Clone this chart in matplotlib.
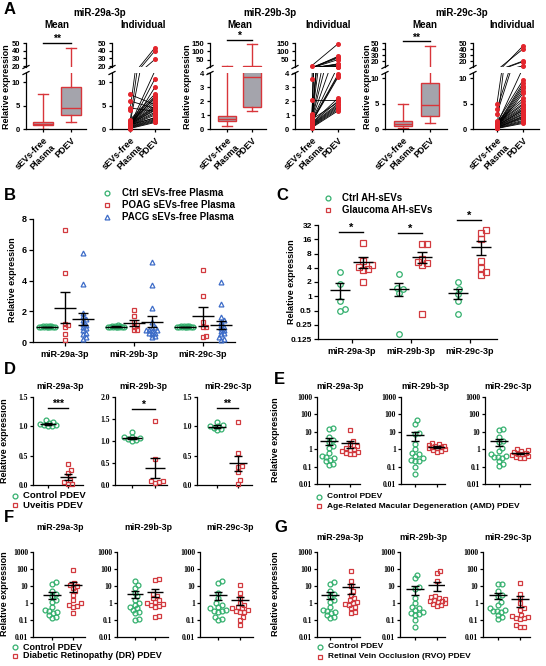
import numpy as np
import matplotlib
matplotlib.use('Agg')
import matplotlib.pyplot as plt
from matplotlib.lines import Line2D
from matplotlib.transforms import blended_transform_factory

plt.rcParams['font.family'] = ['Liberation Sans', 'DejaVu Sans']
plt.rcParams['font.weight'] = 'bold'
plt.rcParams['axes.linewidth'] = 0.9
plt.rcParams['xtick.major.width'] = 0.9
plt.rcParams['ytick.major.width'] = 0.9
plt.rcParams['xtick.major.size'] = 3
plt.rcParams['ytick.major.size'] = 3
SERIF = ['Liberation Serif', 'DejaVu Serif']

# ---------------- DATA ----------------
mirs = ['miR-29a-3p', 'miR-29b-3p', 'miR-29c-3p']
A_xlabels = ['sEVs-free\nPlasma', 'PDEV']
# box stats: [whislo, q1, median, q3, whishi]
A_box_sevs = [[0.1, 0.8, 1.1, 1.6, 7.4], [0.2, 0.6, 0.75, 0.9, 12], [0.2, 0.5, 1.0, 1.5, 5.0]]
A_box_pdev = [[1.4, 3.0, 4.5, 9.0, 44], [1.3, 1.6, 3.7, 12, 145], [1.1, 2.5, 4.7, 9.1, 45]]
A_stars = ['**', '*', '**']
A_upper_lim = [(19, 50), (6, 150), (10, 50)]
A_upper_ticks = [[20, 30, 40, 50], [50, 100, 150], [20, 30, 40, 50]]
A_lower_lim = [(0, 12), (0, 4), (0, 11)]
A_lower_ticks = [[0, 5, 10], [0, 1, 2, 3, 4], [0, 5, 10]]

A29a_sevs = [0.1, 0.2, 0.3, 0.4, 0.5, 0.6, 0.7, 0.8, 0.9, 1.0, 1.0, 1.1, 1.2, 1.3, 1.4, 1.5, 1.6, 1.8, 2.0, 0.3,
             0.5, 0.8, 1.2, 1.5, 4.0, 4.5, 6.0, 7.4, 0.9, 1.1]
A29a_pdev = [1.4, 1.6, 1.8, 2.0, 2.2, 2.5, 3.0, 3.3, 3.6, 4.0, 4.2, 4.5, 4.7, 5.0, 5.5, 6.0, 6.5, 7.0, 7.5, 9.0,
             10.8, 12.5, 29, 40, 44, 3.8, 4.4, 5.2, 2.4, 6.8]
A29b_sevs = [0.1, 0.15, 0.2, 0.25, 0.3, 0.35, 0.4, 0.45, 0.5, 0.55, 0.6, 0.65, 0.7, 0.75, 0.8, 0.85, 0.9, 0.95,
             1.0, 1.05, 0.5, 0.7, 0.3, 2.1, 3.6, 15]
A29b_pdev = [1.3, 1.4, 1.5, 1.6, 1.7, 1.8, 2.0, 2.2, 3.7, 3.8, 3.9, 4.5, 6, 8, 10, 15, 20, 22, 50, 60, 70, 1.9,
             25, 2.1, 65, 145]
A29c_sevs = [0.1, 0.15, 0.2, 0.3, 0.35, 0.4, 0.5, 0.55, 0.6, 0.7, 0.8, 0.9, 1.0, 1.1, 1.2, 1.3, 1.5, 0.25, 0.45,
             0.65, 0.75, 0.85, 1.4, 3.0, 4.0, 5.0, 0.5, 0.3, 0.6, 0.95]
A29c_pdev = [1.1, 1.3, 1.5, 1.7, 2.0, 2.2, 2.5, 2.8, 3.0, 3.3, 3.6, 4.0, 4.3, 4.7, 5.0, 5.5, 6.0, 7.0, 7.5, 8.0,
             8.5, 9.0, 9.6, 19, 20, 40, 45, 2.4, 3.8, 12]
A_pairs = [(A29a_sevs, A29a_pdev), (A29b_sevs, A29b_pdev), (A29c_sevs, A29c_pdev)]

# Panel B
B_series = ['Ctrl sEVs-free Plasma', 'POAG sEVs-free Plasma', 'PACG sEVs-free Plasma']
B_ctrl = [[0.95, 0.97, 0.98, 1.0, 1.0, 1.0, 1.01, 1.02, 1.03, 1.05, 0.99, 1.0],
          [0.95, 0.97, 0.98, 1.0, 1.0, 1.0, 1.01, 1.03, 1.05, 1.1, 0.99, 1.0],
          [0.95, 0.97, 0.98, 1.0, 1.0, 1.0, 1.01, 1.02, 1.03, 1.04, 0.99, 1.0]]
B_poag = [[7.3, 4.5, 1.2, 1.1, 1.0, 0.5, 0.1],
          [2.1, 1.7, 1.3, 1.1, 1.0, 0.8, 0.75],
          [4.7, 3.0, 1.3, 1.0, 0.95, 0.4, 0.35]]
B_pacg = [[5.8, 3.8, 1.9, 1.7, 1.5, 1.4, 1.2, 1.0, 0.9, 0.8, 0.6, 0.5, 0.3, 0.2, 1.1],
          [5.2, 3.7, 2.2, 1.3, 1.0, 0.9, 0.8, 0.75, 0.7, 0.6, 0.5, 0.4, 0.3, 0.6, 0.8],
          [3.9, 2.5, 1.6, 1.4, 1.3, 1.1, 1.0, 0.9, 0.8, 0.6, 0.5, 0.3, 0.2, 0.15, 0.7]]

# Panel C
C_series = ['Ctrl AH-sEVs', 'Glaucoma AH-sEVs']
C_ctrl = [[3.2, 1.8, 0.8, 0.55, 0.5], [2.9, 1.5, 1.4, 1.2, 0.16], [2.0, 1.4, 1.1, 0.8, 0.42]]
C_glau = [[13.5, 5.5, 4.5, 4.2, 3.8, 3.6, 2.0], [13, 12.5, 6.2, 5.3, 5.0, 4.5, 0.42],
          [25, 22, 16, 5.5, 4.0, 3.2, 2.8]]
C_ticks = [0.125, 0.25, 0.5, 1, 2, 4, 8, 16, 32]
C_ticklabels = ['0.125', '0.25', '0.5', '1', '2', '4', '8', '16', '32']
C_sig_y = [22.5, 21.5, 40]

# Panel D
D_series = ['Control PDEV', 'Uveitis PDEV']
D_ctrl = [[1.1, 1.08, 1.05, 1.04, 1.03, 1.02, 1.01, 1.0], [1.2, 1.1, 1.08, 1.07, 1.05, 1.02, 1.0],
          [1.08, 1.02, 1.01, 1.0, 0.98, 0.96, 0.93]]
D_uv = [[0.35, 0.25, 0.2, 0.08, 0.05, 0.02, 0.02], [1.45, 0.6, 0.1, 0.08, 0.06, 0.05],
        [1.07, 0.55, 0.33, 0.3, 0.22, 0.08, 0.02]]
D_ymax = [1.5, 2.0, 1.5]
D_stars = ['***', '*', '**']
D_sig_y = [1.31, 1.72, 1.31]

# Control PDEV (E-G)
ctrl_29a = [17, 14, 5, 3.5, 2.5, 1.5, 1.2, 0.6, 0.4, 0.35, 0.3, 0.25, 0.2, 0.15, 0.13]
ctrl_29b = [45, 28, 9, 7, 2, 1.0, 0.6, 0.5, 0.4, 0.3, 0.25, 0.22, 0.2, 0.1, 0.04]
ctrl_29c = [14, 13, 5, 3, 2.5, 1.2, 0.8, 0.5, 0.4, 0.35, 0.3, 0.35, 0.2, 0.15, 0.11]
ctrlF_29b = [20, 12, 8, 4, 2.5, 1.5, 1.0, 0.8, 0.6, 0.5, 0.4, 0.3, 0.25, 0.12, 0.1]
ctrlF_29c = [20, 15, 4, 2, 1.0, 0.8, 0.6, 0.5, 0.4, 0.35, 0.3, 0.15, 0.12, 0.1, 0.35]

E_series = ['Control PDEV', 'Age-Related Macular Degeneration (AMD) PDEV']
E_ctrl = [ctrl_29a, ctrl_29b, ctrl_29c]
E_dis = [[13, 3, 2, 1.5, 1.2, 1.0, 0.9, 0.8, 0.7, 0.6, 0.55, 0.5],
         [2.3, 2.0, 1.8, 1.6, 1.5, 1.4, 1.3, 1.2, 1.1, 1.0, 0.9, 0.8, 0.7],
         [1.0, 0.9, 0.8, 0.7, 0.6, 0.55, 0.5, 0.45, 0.4, 0.35, 0.3, 0.3]]

F_series = ['Control PDEV', 'Diabetic Retinopathy (DR) PDEV']
F_ctrl = [ctrl_29a, ctrlF_29b, ctrlF_29c]
F_dis = [[85, 15, 12, 10, 8, 5, 3, 1.5, 1.0, 0.8, 0.7, 0.6, 0.25],
         [25, 22, 3.5, 2.5, 2.0, 1.5, 1.2, 1.0, 0.9, 0.8, 0.7, 0.6, 0.18, 0.15],
         [11, 4, 2, 1.0, 0.8, 0.6, 0.5, 0.4, 0.35, 0.3, 0.3, 0.15, 0.1, 0.05, 0.5]]

G_series = ['Control PDEV', 'Retinal Vein Occlusion (RVO) PDEV']
G_ctrl = [ctrl_29a, ctrl_29b, ctrl_29c]
G_dis = [[80, 20, 10, 5, 3, 2.0, 1.5, 1.2, 1.0, 0.9, 0.8, 0.6, 0.5, 0.3, 0.25],
         [80, 55, 20, 2.5, 2.2, 2.0, 1.8, 1.5, 1.4, 1.3, 1.2, 1.0, 0.9, 0.8, 0.7],
         [16, 3.5, 2.0, 1.0, 0.5, 0.4, 0.2, 0.18, 0.15, 0.14, 0.13, 0.12, 0.05, 0.04, 0.04]]
log_ticks = [0.01, 0.1, 1, 10, 100, 1000]
log_ticklabels = ['0.01', '0.1', '1', '10', '100', '1000']

# ---------------- STYLE ----------------
GREEN = '#34b06e'
RED = '#d23a3f'
BLUE = '#3d6cc8'
BOXRED = '#d8353a'
BOXFILL = '#a4a4ac'
PTRED = '#e3262d'

W, H = 546, 666
fig = plt.figure(figsize=(W / 100, H / 100), dpi=100)


def add_ax(left, p0, p1, right, top, bottom):
    ax = fig.add_axes([left / W, 1 - bottom / H, (right - left) / W, (bottom - top) / H])
    u = (p1 - p0)
    ax.set_xlim((left - p0) / u, (right - p0) / u)
    ax.spines['top'].set_visible(False)
    ax.spines['right'].set_visible(False)
    ax.patch.set_alpha(0)
    return ax


def ftext(x, y, s, **kw):
    kw.setdefault('fontweight', 'bold')
    return fig.text(x / W, 1 - y / H, s, **kw)


def fig_marker(x, y, marker, color, ms=3.5):
    fig.add_artist(Line2D([x / W], [1 - y / H], marker=marker, ls='none', ms=ms, mfc='none', mec=color,
                          mew=0.9, transform=fig.transFigure))


def legend_rows(x_m, x_t, ys, markers, colors, labels, fs):
    for y, m, c, lab in zip(ys, markers, colors, labels):
        fig_marker(x_m, y, m, c)
        ftext(x_t, y, lab, fontsize=fs, va='center', ha='left')


def swarm_x(ax, xc, vals, c_px=3.0, max_px=8.0):
    vals = np.asarray(vals, float)
    disp = ax.transData.transform(np.column_stack([np.full(len(vals), xc), vals]))
    cx = disp[0, 0]
    ys = disp[:, 1]
    order = np.argsort(ys)
    placed = []
    off = np.zeros(len(vals))
    cands = [0.0]
    k = 1
    while k * 1.0 <= max_px:
        cands += [k * 1.0, -k * 1.0]
        k += 1
    for i in order:
        y = ys[i]
        best, best_d = 0.0, -1
        for c in cands:
            d = min([np.hypot(c - px, y - py) for px, py in placed] + [1e9])
            if d >= c_px:
                best = c
                break
            if d > best_d:
                best, best_d = c, d
        placed.append((best, y))
        off[i] = best
    inv = ax.transData.inverted()
    return inv.transform(np.column_stack([cx + off, ys]))[:, 0]


def scatter(ax, xc, vals, marker, color, ms=3.5, c_px=3.0, max_px=8.0):
    xs = swarm_x(ax, xc, vals, c_px, max_px)
    ax.plot(xs, vals, ls='none', marker=marker, ms=ms, mfc='none', mec=color, mew=0.9, clip_on=False, zorder=3)


def mean_sem(ax, xc, vals, hw, cw, lw=1.0, floor=None):
    v = np.asarray(vals, float)
    m = v.mean()
    s = v.std(ddof=1) / np.sqrt(len(v))
    lo = m - s
    if floor is not None:
        lo = max(lo, floor)
    kw = dict(color='k', lw=lw, zorder=5, solid_capstyle='butt')
    ax.plot([xc - hw, xc + hw], [m, m], **kw)
    ax.plot([xc, xc], [lo, m + s], **kw)
    ax.plot([xc - cw, xc + cw], [m + s, m + s], **kw)
    ax.plot([xc - cw, xc + cw], [lo, lo], **kw)


def sig_bar(ax, x0, x1, y, stars, fs=7, yoff_px=1.0):
    ax.plot([x0, x1], [y, y], color='k', lw=1.0, clip_on=False)
    ax.annotate(stars, xy=((x0 + x1) / 2, y), xytext=(0, yoff_px), textcoords='offset points',
                ha='center', va='baseline', fontsize=fs, fontweight='bold', annotation_clip=False)


# ---------------- PANEL A ----------------
ftext(4, 10, 'A', fontsize=12, va='center', ha='left')
A_mean_px = [(26, 43, 71, 86), (210, 227, 252, 266), (385, 403, 430, 447)]
A_ind_px = [(112, 130, 155, 169), (295, 312, 338, 354), (473, 497, 523, 539)]
A_title_x = [100, 270, 462]
A_mean_title_x = [57, 240, 425]
A_ind_title_x = [143, 328, 512]
A_ylabel_x = [7, 187, 367]
A_sig_axy = [1.0, 1.125, 1.08]
UP_T, UP_B, LO_T, LO_B = 43, 67, 73, 129


def break_marks(x):
    for y in (UP_B, LO_T):
        fig.add_artist(Line2D([(x - 3) / W, (x + 3) / W], [1 - (y + 1.5) / H, 1 - (y - 1.5) / H],
                              color='k', lw=0.9, transform=fig.transFigure))


for g in range(3):
    ftext(A_title_x[g], 13, mirs[g], fontsize=7, ha='center', va='center')
    ftext(A_mean_title_x[g], 25, 'Mean', fontsize=7, ha='center', va='center')
    ftext(A_ind_title_x[g], 25, 'Individual', fontsize=7, ha='center', va='center')
    ftext(A_ylabel_x[g], 87, 'Relative expression', fontsize=6.5, rotation=90, ha='center', va='center')

    stats = []
    for lab, b in zip(A_xlabels, [A_box_sevs[g], A_box_pdev[g]]):
        stats.append(dict(whislo=b[0], q1=b[1], med=b[2], q3=b[3], whishi=b[4], label=lab))
    box_kw = dict(positions=[0, 1], widths=0.7, showfliers=False, patch_artist=True, capwidths=0.38,
                  boxprops=dict(facecolor=BOXFILL, edgecolor=BOXRED, lw=1.0),
                  medianprops=dict(color=BOXRED, lw=1.0),
                  whiskerprops=dict(color=BOXRED, lw=1.0), capprops=dict(color=BOXRED, lw=1.0))
    for kind in ('mean', 'ind'):
        pxs = A_mean_px[g] if kind == 'mean' else A_ind_px[g]
        axu = add_ax(pxs[0], pxs[1], pxs[2], pxs[3], UP_T, UP_B)
        axl = add_ax(pxs[0], pxs[1], pxs[2], pxs[3], LO_T, LO_B)
        xl = ((pxs[0] - pxs[1]) / (pxs[2] - pxs[1]), (pxs[3] - pxs[1]) / (pxs[2] - pxs[1]))
        if kind == 'mean':
            axu.bxp(stats, **box_kw)
            axl.bxp(stats, **box_kw)
            tr = blended_transform_factory(axu.transData, axu.transAxes)
            yb = A_sig_axy[g]
            axu.plot([0, 1], [yb, yb], color='k', lw=1.0, transform=tr, clip_on=False)
            axu.text(0.5, yb + 0.03, A_stars[g], transform=tr, ha='center', va='baseline', fontsize=7.5,
                     fontweight='bold')
        else:
            sv, pd = A_pairs[g]
            for a, b in zip(sv, pd):
                for ax in (axu, axl):
                    ax.plot([0, 1], [a, b], color='k', lw=0.6, zorder=2)
            sv = np.asarray(sv)
            pd = np.asarray(pd)
            lo_top = A_lower_lim[g][1]
            up_bot = A_upper_lim[g][0]
            for xv, arr in ((0, sv), (1, pd)):
                m = arr <= lo_top
                axl.plot(np.full(m.sum(), xv), arr[m], 'o', ms=2.6, color=PTRED, clip_on=False, zorder=4)
                m2 = arr >= up_bot
                axu.plot(np.full(m2.sum(), xv), arr[m2], 'o', ms=2.6, color=PTRED, clip_on=False, zorder=4)
        axu.set_xlim(*xl)
        axl.set_xlim(*xl)
        axu.set_ylim(*A_upper_lim[g])
        axu.set_yticks(A_upper_ticks[g])
        axu.spines['bottom'].set_visible(False)
        axu.set_xticks([])
        axl.set_ylim(*A_lower_lim[g])
        axl.set_yticks(A_lower_ticks[g])
        axl.set_xticks([0, 1])
        axl.set_xticklabels(A_xlabels, rotation=45, ha='right', rotation_mode='anchor', fontsize=6.5,
                            fontweight='bold')
        for a in (axu, axl):
            a.tick_params(axis='y', labelsize=5.5, pad=1.5, length=2.5)
            a.tick_params(axis='x', pad=2, length=2.5)
        break_marks(pxs[0])

# ---------------- PANEL B ----------------
ftext(4, 195, 'B', fontsize=12, va='center', ha='left')
legend_rows(107, 122, [193, 205, 217], ['o', 's', '^'], [GREEN, RED, BLUE], B_series, 7)
axB = add_ax(33, 65, 134, 235, 219, 342)
axB.set_ylim(0, 8)
axB.set_yticks([0, 2, 4, 6, 8])
axB.set_xticks([0, 1, 2])
axB.set_xticklabels(mirs, fontsize=6.5, fontweight='bold')
axB.tick_params(axis='y', labelsize=6.5, pad=1.5)
axB.tick_params(axis='x', pad=3)
ftext(13, 280, 'Relative expression', fontsize=6.5, rotation=90, ha='center', va='center')
for g in range(3):
    for off, vals, mk, col in ((-0.26, B_ctrl[g], 'o', GREEN), (0.0, B_poag[g], 's', RED),
                               (0.26, B_pacg[g], '^', BLUE)):
        scatter(axB, g + off, vals, mk, col, ms=3.5, c_px=3.0, max_px=8)
        mean_sem(axB, g + off, vals, 0.16, 0.07)

# ---------------- PANEL C ----------------
ftext(276, 195, 'C', fontsize=12, va='center', ha='left')
legend_rows(328, 342, [198, 210], ['o', 's'], [GREEN, RED], C_series, 7)
axC = add_ax(318, 352, 411, 497, 225, 339)
axC.set_yscale('log', base=2)
axC.set_ylim(0.125, 32)
axC.set_yticks(C_ticks)
axC.set_yticklabels(C_ticklabels)
axC.minorticks_off()
axC.set_xticks([0, 1, 2])
axC.set_xticklabels(mirs, fontsize=6.5, fontweight='bold')
axC.tick_params(axis='y', labelsize=6, pad=1.5)
axC.tick_params(axis='x', pad=3)
ftext(292, 282, 'Relative expression', fontsize=6.5, rotation=90, ha='center', va='center')
for g in range(3):
    scatter(axC, g - 0.21, C_ctrl[g], 'o', GREEN, ms=4, c_px=5.0, max_px=10)
    scatter(axC, g + 0.19, C_glau[g], 's', RED, ms=4, c_px=5.0, max_px=10)
    mean_sem(axC, g - 0.21, C_ctrl[g], 0.17, 0.08)
    mean_sem(axC, g + 0.19, C_glau[g], 0.17, 0.08)
    sig_bar(axC, g - 0.22, g + 0.18, C_sig_y[g], '*', fs=8)

# ---------------- PANELS D-G ----------------


def small_panel(pxs, top, bottom, title_xy, ctrl, dis, log, ymax=None, stars=None, sig_y=None, title=''):
    ax = add_ax(pxs[0], pxs[1], pxs[2], pxs[3], top, bottom)
    if log:
        ax.set_yscale('log')
        ax.set_ylim(0.01, 1000)
        ax.set_yticks(log_ticks)
        ax.set_yticklabels(log_ticklabels)
        ax.minorticks_off()
    else:
        ax.set_ylim(0, ymax)
        tk = np.arange(0, ymax + 0.01, 0.5)
        ax.set_yticks(tk)
        ax.set_yticklabels(['%.1f' % t for t in tk])
    ax.set_xticks([0, 1])
    ax.set_xticklabels(['', ''])
    ax.tick_params(axis='y', labelsize=5.5, pad=1, length=2.5)
    ax.tick_params(axis='x', length=2.5)
    for lab in ax.get_yticklabels():
        lab.set_family(SERIF)
        lab.set_fontweight('bold')
    ftext(title_xy[0], title_xy[1], title, fontsize=6.3, ha='center', va='center')
    scatter(ax, 0, ctrl, 'o', GREEN, ms=3.5, c_px=4.0, max_px=8)
    scatter(ax, 1, dis, 's', RED, ms=3.5, c_px=4.0, max_px=8)
    fl = 0.011 if log else None
    mean_sem(ax, 0, ctrl, 0.42, 0.2, floor=fl)
    mean_sem(ax, 1, dis, 0.42, 0.2, floor=fl)
    if stars:
        sig_bar(ax, 0, 1, sig_y, stars, fs=7.5)
    return ax


# D
ftext(4, 369, 'D', fontsize=12, va='center', ha='left')
D_px = [(33, 48, 68, 83), (115, 132, 155, 167), (197, 217, 238, 252)]
D_tx = [60, 143, 228]
for g in range(3):
    small_panel(D_px[g], 397, 485, (D_tx[g], 387), D_ctrl[g], D_uv[g], False, ymax=D_ymax[g],
                stars=D_stars[g], sig_y=D_sig_y[g], title=mirs[g])
ftext(5, 441, 'Relative expression', fontsize=6.5, rotation=90, ha='center', va='center')
legend_rows(15, 23, [496, 505], ['o', 's'], [GREEN, RED], D_series, 6.8)

# E
ftext(274, 380, 'E', fontsize=12, va='center', ha='left')
E_px = [(317, 329, 350, 360), (401, 415, 437, 445), (485, 499, 520, 530)]
E_tx = [340, 425, 508]
for g in range(3):
    small_panel(E_px[g], 397, 484, (E_tx[g], 387), E_ctrl[g], E_dis[g], True, title=mirs[g])
ftext(276, 440, 'Relative expression', fontsize=6.5, rotation=90, ha='center', va='center')
legend_rows(319, 327, [497, 506], ['o', 's'], [GREEN, RED], E_series, 6)

# F
ftext(4, 518, 'F', fontsize=12, va='center', ha='left')
F_px = [(33, 52, 73, 85), (117, 135, 155, 168), (200, 218, 240, 253)]
F_tx = [60, 148, 230]
for g in range(3):
    small_panel(F_px[g], 552, 637, (F_tx[g], 528), F_ctrl[g], F_dis[g], True, title=mirs[g])
ftext(5, 594, 'Relative expression', fontsize=6.5, rotation=90, ha='center', va='center')
legend_rows(15, 23, [647, 656], ['o', 's'], [GREEN, RED], F_series, 6.5)

# G
ftext(274, 528, 'G', fontsize=12, va='center', ha='left')
G_px = [(317, 330, 351, 360), (400, 415, 437, 445), (483, 498, 520, 530)]
G_tx = [340, 423, 508]
for g in range(3):
    small_panel(G_px[g], 552, 637, (G_tx[g], 538), G_ctrl[g], G_dis[g], True, title=mirs[g])
ftext(276, 594, 'Relative expression', fontsize=6.5, rotation=90, ha='center', va='center')
legend_rows(320, 328, [647, 657], ['o', 's'], [GREEN, RED], G_series, 6)

fig.savefig('out.png', dpi=100, facecolor='white')
